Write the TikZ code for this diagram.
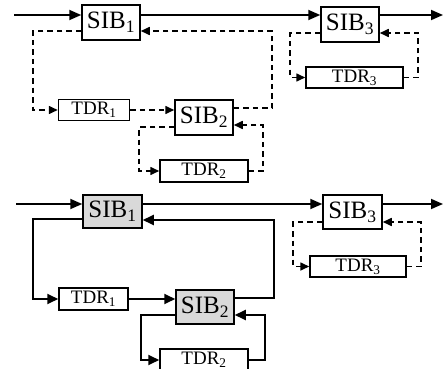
\documentclass[tikz,border=0pt]{standalone}
\usepackage{fontspec}
\setmainfont{Liberation Serif}
\usetikzlibrary{arrows.meta}
\tikzset{
 sib/.style={draw, line width=1.5pt, minimum width=58pt, minimum height=35pt, inner sep=0pt, font=\fontsize{25}{25}\selectfont},
 sibg/.style={sib, fill=gray!30},
 tdr/.style={draw, line width=1.5pt, minimum height=21pt, inner sep=0pt, font=\fontsize{19}{19}\selectfont},
 conn/.style={line width=1.8pt, -{Triangle[length=12pt,width=10pt]}},
 sconn/.style={line width=1.8pt, -{Triangle[length=11pt,width=10pt]}},
 dconn/.style={line width=1.6pt, dash pattern=on 5.5pt off 4pt, -{Triangle[length=9pt,width=8pt]}},
}
\begin{document}
\begin{tikzpicture}[x=1pt,y=-1pt]
\useasboundingbox (0,0) rectangle (444,369);
% ---------- top diagram ----------
\node[sib] (A1) at (111,22.5) {SIB\textsubscript{1}};
\node[sib] (A3) at (350,24.5) {SIB\textsubscript{3}};
\node[tdr, minimum width=71pt] (T1) at (94,110) {TDR\textsubscript{1}};
\node[sib] (A2) at (204,117.5) {SIB\textsubscript{2}};
\node[tdr, minimum width=88pt, minimum height=22pt] (T2) at (204,171) {TDR\textsubscript{2}};
\node[tdr, minimum width=97pt] (T3) at (354.5,77.5) {TDR\textsubscript{3}};
\coordinate (in1) at (14,15);
\coordinate (out1) at (443,15);
\draw[conn] (in1) -- (in1 -| A1.west);
\draw[conn] (A1.east |- in1) -- (A3.west |- in1);
\draw[conn] (A3.east |- in1) -- (out1);
\draw[dconn] ([yshift=-8.5pt]A1.west) -- ++(-48,0) |- (T1.west);
\draw[dconn] (T1.east) -- (T1.east -| A2.west);
\draw[dconn] ([yshift=9.5pt]A2.east) -- ++(38,0) |- ([yshift=-8.5pt]A1.east);
\draw[dconn] ([yshift=-9.5pt]A2.west) -- ++(-35,0) |- (T2.west);
\draw[dconn] (T2.east) -- ++(14,0) |- ([yshift=-7.5pt]A2.east);
\draw[dconn] ([yshift=-8.5pt]A3.west) -- ++(-30,0) |- (T3.west);
\draw[dconn] (T3.east) -- ++(14,0) |- ([yshift=-8.5pt]A3.east);
% ---------- bottom diagram ----------
\node[sibg, minimum width=59pt, minimum height=33pt] (B1) at (112.5,211.5) {SIB\textsubscript{1}};
\node[sib, minimum width=59pt, minimum height=34pt] (B3) at (352.5,212) {SIB\textsubscript{3}};
\node[tdr, minimum width=69pt, minimum height=22pt] (U1) at (93.5,299) {TDR\textsubscript{1}};
\node[sibg, minimum height=34pt] (B2) at (205,307) {SIB\textsubscript{2}};
\node[tdr, minimum width=88pt, minimum height=22pt] (U2) at (204,360) {TDR\textsubscript{2}};
\node[tdr, minimum width=96pt] (U3) at (358,266.5) {TDR\textsubscript{3}};
\coordinate (in2) at (16,204);
\coordinate (out2) at (443,204);
\draw[conn] (in2) -- (in2 -| B1.west);
\draw[conn] (B1.east |- in2) -- (B3.west |- in2);
\draw[conn] (B3.east |- in2) -- (out2);
\draw[sconn] ([yshift=-7.5pt]B1.west) -- ++(-49,0) |- (U1.west);
\draw[sconn] (U1.east) -- (U1.east -| B2.west);
\draw[sconn] ([yshift=9pt]B2.east) -- ++(39,0) |- ([yshift=-8.5pt]B1.east);
\draw[sconn] ([yshift=-8pt]B2.west) -- ++(-34,0) |- (U2.west);
\draw[sconn] (U2.east) -- ++(16,0) |- ([yshift=-8pt]B2.east);
\draw[dconn] ([yshift=-10pt]B3.west) -- ++(-29,0) |- (U3.west);
\draw[dconn] (U3.east) -- ++(14,0) |- ([yshift=-10pt]B3.east);
\end{tikzpicture}
\end{document}
